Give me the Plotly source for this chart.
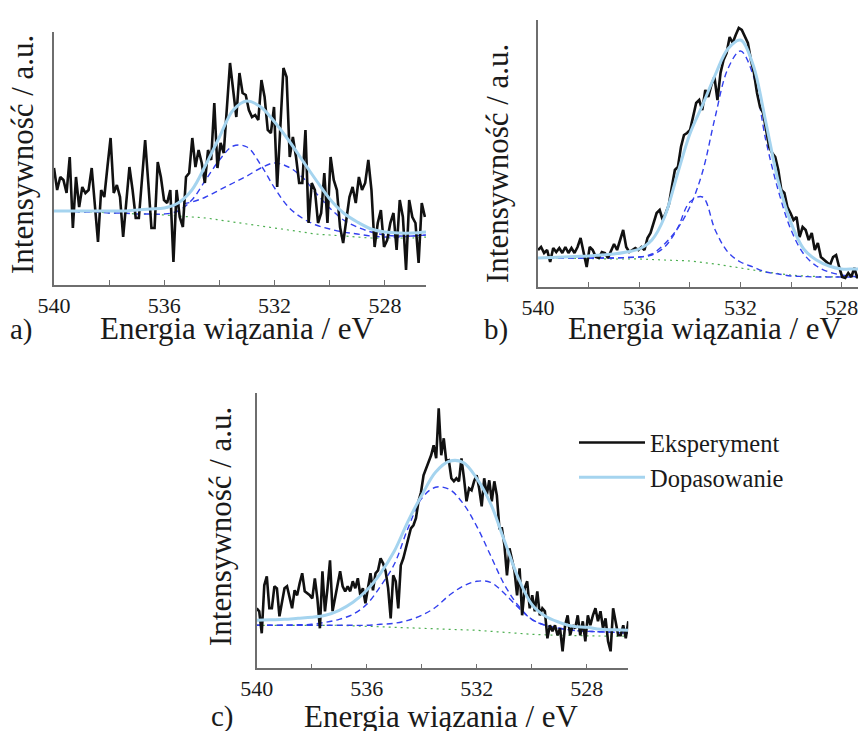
import numpy as np
import plotly.graph_objects as go

# ---------------- data (intensities in arbitrary units) ----------------
# experimental spectra
exp_a = [117, 95, 108, 105, 92, 128, 57, 108, 78, 98, 92, 95, 117, 82, 43, 95, 88, 118, 147, 92,
         100, 88, 48, 83, 118, 95, 67, 67, 105, 145, 102, 57, 57, 123, 108, 85, 82, 95, 23, 95,
         68, 58, 108, 112, 147, 118, 135, 122, 102, 135, 125, 182, 117, 142, 132, 182, 222, 195, 168,
         212, 192, 190, 175, 168, 170, 165, 205, 188, 155, 152, 178, 98, 162, 217, 208, 128, 148, 128,
         102, 102, 155, 62, 102, 95, 62, 72, 112, 62, 128, 105, 95, 58, 42, 68, 88, 98, 82, 108, 95,
         102, 125, 95, 38, 62, 75, 38, 45, 62, 72, 35, 85, 68, 15, 85, 68, 62, 22, 82, 68]
exp_b = [37, 40, 34, 37, 25, 39, 35, 39, 34, 40, 34, 39, 34, 40, 49, 34, 20, 40, 37, 30,
         29, 35, 34, 29, 37, 43, 37, 47, 57, 40, 35, 37, 39, 37, 40, 37, 49, 54, 64, 74,
         77, 67, 74, 82, 100, 117, 120, 140, 152, 154, 157, 170, 184,
         187, 177, 197, 190, 202, 210, 187, 214, 227, 234, 250, 244, 252, 259, 257, 250, 244, 227, 214,
         194, 180, 174, 157, 140, 134, 130, 117, 97, 94, 80, 74, 67, 70, 50, 60, 57, 47, 54, 37, 44,
         30, 27, 24, 22, 30, 32, 20, 10, 9, 14, 10, 19, 9, 14, 17]
exp_c = [60, 57, 35, 83, 92, 60, 60, 82, 80, 52, 66, 80, 82, 70, 60, 78, 73, 85, 95, 77,
         75, 73, 70, 90, 70, 40, 97, 57, 80, 108, 57, 70, 82, 97, 82, 77, 82, 77, 87, 80,
         90, 73, 80, 65, 80, 95, 78, 95, 98, 110, 105, 97, 80, 50, 93, 87, 60, 103, 110, 120,
         127, 140, 143, 150, 167, 176, 193, 200, 207, 213, 223, 210, 260, 213, 230, 207,
         208, 190, 187, 190, 187, 210, 190, 167, 180, 178, 187, 193, 180, 162, 190, 173, 188, 167,
         187, 173, 140, 140, 123, 93, 120, 110, 97, 73, 100, 53, 80, 87, 60, 73, 57, 77, 53, 60,
         57, 30, 43, 37, 43, 33, 40, 17, 43, 53, 33, 43, 40, 53, 33, 47, 27, 53, 43, 53, 60, 47,
         57, 40, 50, 27, 17, 60, 47, 33, 33, 43, 30, 47]
exp_end = {"a": 526.55, "b": 527.14, "c": 526.49}

# fitted curves sampled every 0.5 eV from 540 eV
fit_a = [74, 74, 74, 74, 74, 74, 75, 76, 77, 82, 95, 120, 148, 175, 184, 178, 163, 145, 125,
         105, 86, 72, 63, 56, 53, 52, 52, 53]
c1_a = [74, 74, 73, 73, 72, 72, 71, 71, 71, 74, 85, 105, 125, 139, 138, 120, 97, 78, 67,
        60, 56, 53, 51, 49, 48, 48, 49, 50]
c2_a = [74, 74, 74, 74, 74, 74, 75, 76, 77, 80, 83, 88, 95, 102, 109, 117, 122, 118, 108,
        92, 77, 65, 58, 53, 50, 49, 49, 50]
bg_a = [74, 74, 73, 73, 72, 72, 71, 71, 70, 69, 68, 67, 65, 63, 61, 59, 57, 55, 53,
        51, 50, 49, 48, 47, 47, 47, 47, 48]

fit_b = [29, 29.5, 30, 30.5, 31, 32, 33, 35, 38, 47, 70, 112, 153, 182, 212, 238, 247, 222, 165,
         105, 64, 38, 27, 21, 18, 18, 18]
c1_b = [29, 29, 29, 29, 29, 29, 29, 29.5, 30, 33, 43, 58, 80, 115, 170, 218, 236, 212, 147,
        96, 57, 33, 21, 15, 12, 10.5, 10]
c2_b = [29, 29, 29, 29, 29, 29, 29, 29.5, 30, 32, 40, 58, 85, 90, 57, 35, 25, 20, 15,
        13, 11, 10.5, 10, 10, 10, 10, 10]
bg_b = [29, 29, 29, 28.7, 28.5, 28.2, 28, 28, 28, 27.5, 27, 26.5, 26, 24.5, 23, 21, 19, 17, 15,
        13.5, 12, 11, 10.5, 10.2, 10, 10, 10]

fit_c = [48, 48.5, 49, 50, 51, 53, 58, 66, 78, 95, 117, 147, 173, 196, 207, 206, 190, 165, 128,
         91, 64, 52, 46, 42, 41, 39, 38.5, 38]
c1_c = [43, 43, 43, 43.5, 44, 46, 49, 54, 64, 82, 104, 140, 170, 181, 179, 165, 142, 113, 84,
        63, 49, 43, 40, 38, 37, 36.5, 36, 35]
c2_c = [43, 43, 43, 43, 43, 43, 43, 43, 43, 44, 45, 48, 53, 61, 73, 82, 87, 86, 75,
        61, 49, 43, 40, 38, 37, 36.5, 36, 35]
bg_c = [43, 43, 43, 43, 43, 43, 43, 42.5, 42, 41.5, 41, 40.5, 40, 39.5, 39, 38.5, 38, 37, 36,
        35, 34, 33.5, 33, 32.8, 32.5, 32.3, 32.2, 32]

tick_vals = [540, 536, 532, 528]
tick_text = ["540", "536", "532", "528"]
x_title = "Energia wiązania / eV"
y_title = "Intensywność / a.u."
panel_labels = ["a)", "b)", "c)"]
legend_names = ["Eksperyment", "Dopasowanie"]

# ---------------- figure ----------------
W, H = 866, 731
FONT = "Liberation Serif"
OFF = 8  # page body margin of the browser

def px(x):
    return (x - OFF) / W

def py(y):
    return 1 - (y - OFF) / H

panels = {
    "a": dict(exp=exp_a, fit=fit_a, c1=c1_a, c2=c2_a, bg=bg_a,
              xd=[px(54), px(426)], yd=[py(285), py(32)], xr=[540, 526.51], yr=[0, 253]),
    "b": dict(exp=exp_b, fit=fit_b, c1=c1_b, c2=c2_b, bg=bg_b,
              xd=[px(538), px(866)], yd=[py(287), py(20)], xr=[540, 527.04], yr=[0, 267]),
    "c": dict(exp=exp_c, fit=fit_c, c1=c1_c, c2=c2_c, bg=bg_c,
              xd=[px(256.7), px(628.3)], yd=[py(668.3), py(393)], xr=[540, 526.49], yr=[0, 275.3]),
}

BLACK = "#111111"
FITC = "#a5d4ef"
DASHC = "#3340ee"
GREEN = "#4caf50"

fig = go.Figure()
layout = dict(width=W, height=H, margin=dict(l=0, r=0, t=0, b=0, pad=0, autoexpand=False),
              paper_bgcolor="white", plot_bgcolor="white",
              font=dict(family=FONT, color="#1a1a1a"))

for i, (key, p) in enumerate(panels.items()):
    n = i + 1
    xa = "x" if n == 1 else f"x{n}"
    ya = "y" if n == 1 else f"y{n}"
    e_exp = np.linspace(540, exp_end[key], len(p["exp"]))
    e_fit = 540 - 0.5 * np.arange(len(p["fit"]))
    show = key == "c"
    fig.add_trace(go.Scatter(x=e_fit, y=p["bg"], mode="lines", xaxis=xa, yaxis=ya,
                             line=dict(color=GREEN, width=1.2, dash="2px,4px", shape="spline"),
                             showlegend=False, hoverinfo="skip"))
    for comp in ("c1", "c2"):
        fig.add_trace(go.Scatter(x=e_fit, y=p[comp], mode="lines", xaxis=xa, yaxis=ya,
                                 line=dict(color=DASHC, width=1.4, dash="6px,4px", shape="spline"),
                                 showlegend=False, hoverinfo="skip"))
    fig.add_trace(go.Scatter(x=e_exp, y=p["exp"], mode="lines", xaxis=xa, yaxis=ya,
                             name=legend_names[0], legendrank=1,
                             line=dict(color=BLACK, width=2.6), showlegend=show))
    fig.add_trace(go.Scatter(x=e_fit, y=p["fit"], mode="lines", xaxis=xa, yaxis=ya,
                             name=legend_names[1], legendrank=2,
                             line=dict(color=FITC, width=3, shape="spline"), showlegend=show))

    layout["xaxis" if n == 1 else f"xaxis{n}"] = dict(
        domain=p["xd"], range=p["xr"], anchor=ya, automargin=False,
        showline=True, linecolor="#6e6e6e", linewidth=1.5,
        tickvals=tick_vals, ticktext=tick_text, ticks="inside", ticklen=5,
        tickcolor="#6e6e6e", tickwidth=1,
        minor=dict(tickvals=[538, 534, 530], ticks="inside", ticklen=5, tickcolor="#6e6e6e"),
        tickfont=dict(family=FONT, size=22, color="#1a1a1a"),
        showgrid=False, zeroline=False, fixedrange=True)
    layout["yaxis" if n == 1 else f"yaxis{n}"] = dict(
        domain=p["yd"], range=p["yr"], anchor=xa, automargin=False,
        showline=True, linecolor="#6e6e6e", linewidth=1.5,
        ticks="", showticklabels=False, showgrid=False, zeroline=False, fixedrange=True)

annos = []
# x titles, y titles, panel labels (positions in screen pixels of the reference)
xt_pos = [(238, 328), (705, 328), (441, 716)]
yt_pos = [(22, 155), (497, 164), (220, 527)]
lab_pos = [(21, 329), (496, 329), (222, 716)]
for j in range(3):
    annos.append(dict(text=x_title, x=px(xt_pos[j][0]), y=py(xt_pos[j][1]), xref="paper", yref="paper",
                      showarrow=False, xanchor="center", yanchor="middle",
                      font=dict(family=FONT, size=31, color="#1a1a1a")))
    annos.append(dict(text=y_title, x=px(yt_pos[j][0]), y=py(yt_pos[j][1]), xref="paper", yref="paper",
                      showarrow=False, xanchor="center", yanchor="middle", textangle=-90,
                      font=dict(family=FONT, size=31, color="#1a1a1a")))
    annos.append(dict(text=panel_labels[j], x=px(lab_pos[j][0]), y=py(lab_pos[j][1]), xref="paper",
                      yref="paper", showarrow=False, xanchor="center", yanchor="middle",
                      font=dict(family=FONT, size=29, color="#1a1a1a")))
layout["annotations"] = annos
layout["legend"] = dict(x=px(574), y=py(420), xanchor="left", yanchor="top",
                        bgcolor="rgba(0,0,0,0)", itemwidth=66, tracegroupgap=0,
                        font=dict(family=FONT, size=24.5, color="#1a1a1a"))
fig.update_layout(**layout)
fig.write_html("out.html")
